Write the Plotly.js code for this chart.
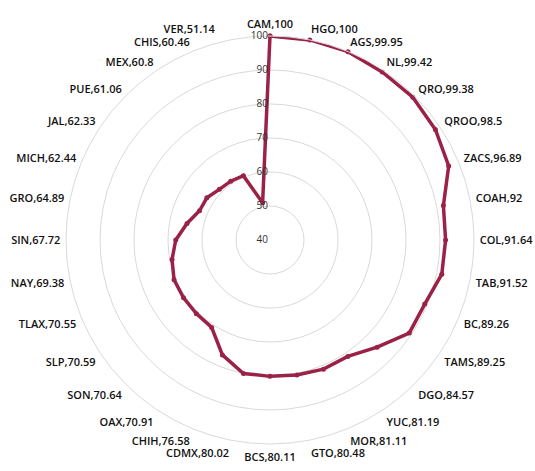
<!DOCTYPE html>
<html>
<head>
<meta charset="utf-8">
<script src="https://cdn.plot.ly/plotly-3.0.1.min.js"></script>
<style>html,body{margin:0;padding:0;background:#fff;}#chart{width:535px;height:471px;}</style>
</head>
<body>
<div id="chart"></div>
<script>
var states = ["CAM","HGO","AGS","NL","QRO","QROO","ZACS","COAH","COL","TAB","BC","TAMS","DGO","YUC","MOR","GTO","BCS","CDMX","CHIH","OAX","SON","SLP","TLAX","NAY","SIN","GRO","MICH","JAL","PUE","MEX","CHIS","VER"];
var values = [100,100,99.95,99.42,99.38,98.5,96.89,92,91.64,91.52,89.26,89.25,84.57,81.19,81.11,80.48,80.11,80.02,76.58,70.91,70.64,70.59,70.55,69.38,67.72,64.89,62.44,62.33,61.06,60.8,60.46,51.14];
var radialTicks = [40,50,60,70,80,90,100];

var labels = states.map(function(s,i){ return s + "," + values[i]; });
// keep the last label clear of the radial "100" tick label
var tickTexts = labels.map(function(t,i){
  return i === labels.length - 1 ? t + "\u00a0\u00a0\u00a0\u00a0\u00a0" : t;
});
var thetaClosed = labels.concat([labels[0]]);
var rClosed = values.concat([values[0]]);

var trace = {
  type: "scatterpolar",
  mode: "lines+markers",
  r: rClosed,
  theta: thetaClosed,
  line: {color: "#9b2247", width: 3.5},
  marker: {color: "#9b2247", size: 5},
  hoverinfo: "none"
};

var layout = {
  width: 535, height: 471,
  margin: {l: 66, r: 61, t: 36, b: 27},
  paper_bgcolor: "#ffffff",
  showlegend: false,
  font: {family: "Open Sans, sans-serif", color: "#111111"},
  polar: {
    bgcolor: "#ffffff",
    radialaxis: {
      range: [40, 100],
      tickmode: "array",
      tickvals: radialTicks,
      ticksuffix: "\u00a0\u00a0",
      angle: 90,
      tickangle: 90,
      side: "counterclockwise",
      showline: false,
      ticks: "",
      gridcolor: "#d9d9d9",
      gridwidth: 1,
      tickfont: {size: 10, color: "#333333", family: "Open Sans, sans-serif"}
    },
    angularaxis: {
      type: "category",
      categoryorder: "array",
      categoryarray: labels,
      tickmode: "array",
      tickvals: labels,
      ticktext: tickTexts,
      direction: "clockwise",
      rotation: 90,
      showgrid: false,
      showline: true,
      linecolor: "#d9d9d9",
      linewidth: 1,
      ticks: "outside",
      ticklen: 3,
      tickcolor: "rgba(0,0,0,0)",
      tickfont: {size: 11, color: "#111111", family: "Open Sans, sans-serif", weight: 600}
    }
  }
};

Plotly.newPlot("chart", [trace], layout, {displayModeBar: false, staticPlot: true});
</script>
</body>
</html>
